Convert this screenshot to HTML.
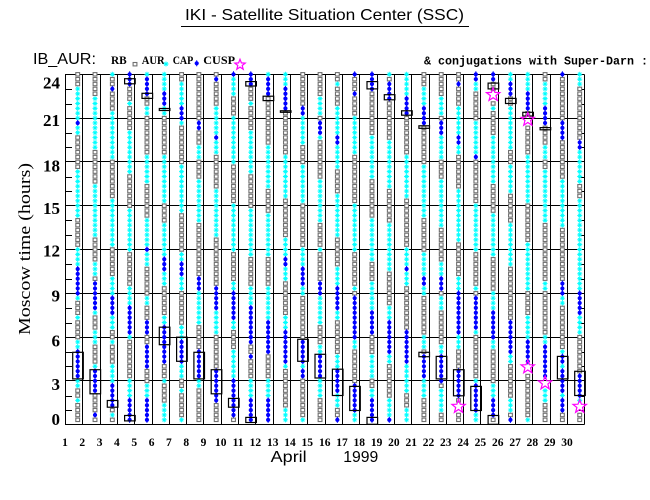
<!DOCTYPE html>
<html>
<head>
<meta charset="utf-8">
<style>
html,body{margin:0;padding:0;background:#fff;}
svg{display:block;}
</style>
</head>
<body>
<svg id="c" xmlns="http://www.w3.org/2000/svg" width="650" height="500" viewBox="0 0 650 500">
<rect x="0" y="0" width="650" height="500" fill="#fff"/>
<text x="185" y="20" font-family="Liberation Sans, sans-serif" font-size="16" textLength="279" lengthAdjust="spacingAndGlyphs" fill="#000">IKI - Satellite Situation Center (SSC)</text>
<line x1="181" y1="26.5" x2="469" y2="26.5" stroke="#000" stroke-width="1"/>
<text x="33" y="64" font-family="Liberation Sans, sans-serif" font-size="16" textLength="63" lengthAdjust="spacingAndGlyphs" fill="#000">IB_AUR:</text>
<g font-family="Liberation Serif, serif" font-weight="bold" font-size="12" fill="#000">
<text x="111" y="64" textLength="15.7" lengthAdjust="spacingAndGlyphs">RB</text>
<text x="141.7" y="64" textLength="23" lengthAdjust="spacingAndGlyphs">AUR</text>
<text x="172.7" y="64" textLength="20.6" lengthAdjust="spacingAndGlyphs">CAP</text>
<text x="203.3" y="64" textLength="31.7" lengthAdjust="spacingAndGlyphs">CUSP</text>
</g>
<text x="424" y="64.3" font-family="Liberation Mono, monospace" font-weight="bold" font-size="12" textLength="224" lengthAdjust="spacingAndGlyphs" fill="#000">&amp; conjugations with Super-Darn :</text>
<g font-family="Liberation Serif, serif" font-weight="bold" font-size="17" fill="#000" text-anchor="end">
<text x="60" y="88.5">24</text>
<text x="60" y="126">21</text>
<text x="60" y="171.7">18</text>
<text x="60" y="214">15</text>
<text x="60" y="256.7">12</text>
<text x="60" y="301.7">9</text>
<text x="60" y="346.7">6</text>
<text x="60" y="390">3</text>
<text x="60" y="425">0</text>
</g>
<text transform="translate(30,249) rotate(-90)" text-anchor="middle" font-family="Liberation Serif, serif" font-size="17" textLength="172" lengthAdjust="spacingAndGlyphs" fill="#000">Moscow time (hours)</text>
<text x="270.7" y="462" font-family="Liberation Sans, sans-serif" font-size="16" textLength="36" lengthAdjust="spacingAndGlyphs" fill="#000">April</text>
<text x="343.3" y="462" font-family="Liberation Sans, sans-serif" font-size="16" textLength="35" lengthAdjust="spacingAndGlyphs" fill="#000">1999</text>
<g id="daylabels" font-family="Liberation Serif, serif" font-weight="bold" font-size="11.5" fill="#000" text-anchor="middle">
<text x="65" y="446">1</text><text x="82.3" y="446">2</text><text x="99.6" y="446">3</text><text x="116.9" y="446">4</text><text x="134.2" y="446">5</text><text x="151.6" y="446">6</text><text x="168.9" y="446">7</text><text x="186.2" y="446">8</text><text x="203.5" y="446">9</text><text x="220.8" y="446">10</text><text x="238.1" y="446">11</text><text x="255.4" y="446">12</text><text x="272.7" y="446">13</text><text x="290" y="446">14</text><text x="307.3" y="446">15</text><text x="324.7" y="446">16</text><text x="342" y="446">17</text><text x="359.3" y="446">18</text><text x="376.6" y="446">19</text><text x="393.9" y="446">20</text><text x="411.2" y="446">21</text><text x="428.5" y="446">22</text><text x="445.8" y="446">23</text><text x="463.1" y="446">24</text><text x="480.4" y="446">25</text><text x="497.8" y="446">26</text><text x="515.1" y="446">27</text><text x="532.4" y="446">28</text><text x="549.7" y="446">29</text><text x="567" y="446">30</text>
</g>
</svg>
<script>
(function(){
var svg=document.getElementById('c');
var NS='http://www.w3.org/2000/svg';
function el(n,a){var e=document.createElementNS(NS,n);for(var k in a)e.setAttribute(k,a[k]);svg.appendChild(e);return e;}
var X0=65,DX=17.31;
function Y(h){return 424.7-14.6*h;}
function VX(d){return X0+(d-1)*DX;}
function MX(d){return X0+d*DX-4.6;}
var gy=[424.5,380.5,337.5,293.5,249.5,205.5,161.5,118.5,74.5];
var i,d,k;
for(i=0;i<gy.length;i++){el('line',{x1:65,y1:gy[i],x2:584.5,y2:gy[i],stroke:'#000','stroke-width':1,'shape-rendering':'crispEdges'});}
for(d=1;d<=31;d++){var vx=Math.round(VX(d))+0.5;el('line',{x1:vx,y1:74.5,x2:vx,y2:424.5,stroke:'#000','stroke-width':1,'shape-rendering':'crispEdges'});}
for(k=1;k<24;k++){if(k%3===0)continue;var ty=Math.round(Y(k))+0.5;
 el('line',{x1:65,y1:ty,x2:72,y2:ty,stroke:'#000','stroke-width':1,'shape-rendering':'crispEdges'});
 el('line',{x1:579,y1:ty,x2:584.5,y2:ty,stroke:'#000','stroke-width':1,'shape-rendering':'crispEdges'});}
function gsq(x,y){el('rect',{x:x-1.9,y:y-1.7,width:3.8,height:3.4,fill:'#fff',stroke:'#707070','stroke-width':1.1});}
function ast(x,y){el('path',{d:'M'+(x-2.5)+' '+y+'H'+(x+2.5)+'M'+x+' '+(y-2.5)+'V'+(y+2.5)+'M'+(x-1.7)+' '+(y-1.7)+'L'+(x+1.7)+' '+(y+1.7)+'M'+(x-1.7)+' '+(y+1.7)+'L'+(x+1.7)+' '+(y-1.7),stroke:'#00ffff','stroke-width':0.9,fill:'none'});}
function dot(x,y){el('path',{d:'M'+x+' '+(y-3)+'V'+(y+3),stroke:'#0000ff','stroke-width':1});el('circle',{cx:x,cy:y,r:2.1,fill:'#0000ff'});}
function star(x,y,R){var p=[];for(var j=0;j<10;j++){var r=j%2?R*0.42:R;var a=-Math.PI/2+j*Math.PI/5;p.push((x+r*Math.cos(a)).toFixed(1)+','+(y+r*Math.sin(a)).toFixed(1));}el('polygon',{points:p.join(' '),fill:'none',stroke:'#ff00ff','stroke-width':1.2});}
var D={
1:[[22.9,19.9,'c'],[20.8,20.8,'b'],[17.3,14.2,'c'],[12.1,10.8,'c'],[10.5,9.0,'b'],[8.7,8.7,'c'],[7.3,7.3,'c'],[5.7,5.3,'c'],[4.9,3.1,'b'],[3.0,2.6,'c'],[1.7,1.7,'c']],
2:[[22.2,18.9,'c'],[16.2,13.1,'c'],[10.9,10.2,'c'],[9.8,7.8,'b'],[7.7,7.7,'c'],[6.3,5.7,'c'],[4.1,3.9,'c'],[3.8,2.2,'b'],[0.7,0.7,'b']],
3:[[24.1,24.1,'c'],[23.0,23.0,'b'],[21.2,18.3,'c'],[15.4,12.4,'c'],[10.1,9.0,'c'],[8.8,7.7,'b'],[7.4,6.6,'c'],[5.7,5.7,'c'],[4.1,3.0,'c'],[2.7,1.4,'b'],[0.7,0.7,'c']],
4:[[24.1,23.4,'b'],[22.1,22.1,'c'],[20.1,17.3,'c'],[14.7,11.9,'c'],[9.2,8.3,'c'],[8.1,6.3,'b'],[6.1,6.1,'c'],[3.0,1.9,'c'],[1.7,0.3,'b']],
5:[[24.1,24.1,'c'],[23.8,22.8,'b'],[21.5,21.3,'c'],[18.4,16.8,'c'],[13.9,12.2,'c'],[12.1,11.7,'b'],[11.6,11.1,'c'],[8.8,8.3,'c'],[7.1,6.4,'b'],[5.3,4.1,'b'],[2.5,2.1,'c'],[1.8,0.3,'b']],
6:[[24.1,23.0,'c'],[22.8,22.0,'b'],[21.5,21.2,'c'],[18.2,15.2,'c'],[13.7,11.7,'c'],[11.4,10.4,'b'],[10.3,9.8,'c'],[7.4,6.7,'c'],[6.5,4.3,'b'],[3.0,2.9,'c'],[1.4,0.2,'c']],
7:[[23.4,22.0,'c'],[21.7,21.0,'b'],[20.8,20.8,'c'],[17.8,14.7,'c'],[11.5,11.2,'c'],[11.0,10.3,'b'],[10.0,9.4,'c'],[6.5,6.1,'c'],[5.6,4.1,'b'],[3.9,3.5,'c'],[2.4,2.4,'c'],[0.4,0.3,'c']],
8:[[20.8,20.3,'b'],[19.0,18.3,'c'],[16.8,14.0,'c'],[10.1,9.2,'b'],[8.9,7.1,'c'],[5.0,3.2,'b'],[3.0,2.6,'c']],
9:[[23.7,23.7,'b'],[21.8,18.8,'c'],[19.7,19.7,'b'],[16.1,13.1,'c'],[9.4,7.9,'b'],[7.8,6.4,'c'],[3.6,1.6,'b']],
10:[[24.1,24.1,'b'],[23.8,22.6,'c'],[20.9,17.9,'c'],[15.1,11.9,'c'],[9.8,9.2,'c'],[8.9,7.0,'b'],[6.9,6.6,'c'],[5.0,3.2,'c'],[3.0,0.7,'b']],
11:[[24.1,23.3,'b'],[22.1,22.1,'c'],[20.1,17.3,'c'],[14.5,11.7,'c'],[9.2,8.3,'c'],[7.9,5.8,'b'],[4.7,4.7,'b'],[3.0,2.1,'c'],[1.8,0.3,'b']],
12:[[24.1,24.1,'c'],[23.8,22.6,'b'],[19.0,16.5,'c'],[14.4,11.8,'c'],[9.2,7.3,'c'],[7.1,5.0,'b'],[3.0,2.1,'c'],[1.8,0.3,'b']],
13:[[24.1,23.1,'c'],[22.9,21.7,'b'],[18.4,15.7,'c'],[12.8,11.7,'c'],[11.2,10.8,'b'],[10.6,9.9,'c'],[7.4,6.3,'c'],[6.2,4.3,'b'],[4.1,4.1,'c'],[1.1,0.2,'c']],
14:[[21.8,21.0,'b'],[20.9,19.2,'c'],[17.5,15.2,'c'],[12.1,10.8,'c'],[10.5,9.6,'b'],[9.4,9.0,'c'],[5.7,3.2,'b'],[4.1,3.9,'c'],[0.3,0.3,'c']],
15:[[22.4,21.2,'c'],[20.8,20.0,'b'],[19.8,19.7,'c'],[16.8,14.1,'c'],[12.1,12.0,'c'],[9.8,8.7,'b'],[8.5,6.9,'c'],[5.3,5.0,'c'],[4.8,3.2,'b'],[2.9,2.1,'c']],
16:[[23.4,23.3,'c'],[21.7,20.0,'c'],[19.8,19.3,'b'],[19.1,17.7,'c'],[15.8,12.9,'c'],[10.5,9.5,'c'],[9.3,8.0,'b'],[7.8,7.2,'c'],[4.8,3.9,'c'],[3.7,2.3,'b'],[2.1,1.4,'c'],[0.3,0.3,'b']],
17:[[24.1,24.1,'b'],[22.7,22.7,'b'],[21.0,18.6,'c'],[15.1,11.9,'c'],[9.2,9.2,'c'],[8.5,6.0,'b'],[5.7,5.3,'c'],[2.5,1.1,'b'],[0.7,0.2,'c']],
18:[[24.1,23.1,'b'],[19.8,16.9,'c'],[14.0,11.5,'c'],[9.6,8.0,'c'],[7.8,6.2,'b'],[4.8,3.4,'c'],[2.3,1.8,'c'],[1.5,0.3,'b']],
19:[[24.1,24.1,'c'],[23.4,22.3,'b'],[19.2,16.2,'c'],[13.5,10.8,'c'],[8.0,7.2,'c'],[6.9,4.6,'b'],[4.7,4.3,'c'],[1.8,0.7,'c'],[0.3,0.3,'b']],
20:[[24.1,22.8,'c'],[22.4,21.4,'b'],[18.2,15.6,'c'],[12.1,11.0,'c'],[10.7,10.7,'b'],[10.3,9.6,'c'],[6.2,4.3,'b'],[4.1,2.5,'c'],[1.1,0.2,'c']],
21:[[23.1,22.0,'c'],[21.7,20.7,'b'],[17.5,14.5,'c'],[11.6,10.3,'c'],[10.1,9.6,'b'],[9.4,9.0,'c'],[6.1,5.3,'c'],[4.8,3.2,'b'],[3.0,1.9,'c']],
22:[[22.4,21.3,'c'],[20.8,19.9,'b'],[19.8,18.3,'c'],[16.5,13.6,'c'],[11.1,10.4,'c'],[9.9,9.2,'b'],[8.7,8.0,'c'],[5.4,4.7,'c'],[4.6,3.0,'b'],[2.3,0.9,'c']],
23:[[23.4,23.4,'b'],[21.5,19.9,'c'],[19.8,19.0,'b'],[18.9,18.6,'c'],[15.9,12.7,'c'],[10.1,9.3,'c'],[9.0,6.2,'b'],[6.1,5.5,'c'],[3.7,2.1,'b']],
24:[[24.1,23.7,'b'],[23.4,23.1,'c'],[20.7,18.6,'c'],[18.4,18.4,'b'],[14.9,11.9,'c'],[9.3,9.2,'c'],[8.8,6.5,'b'],[6.4,6.4,'c'],[3.0,2.7,'c'],[2.5,0.9,'b'],[0.7,0.2,'c']],
25:[[24.1,23.6,'b'],[21.8,21.6,'c'],[19.8,16.8,'c'],[14.3,11.7,'c'],[8.9,7.7,'c'],[7.5,5.9,'b'],[5.7,5.3,'c'],[2.5,2.0,'c'],[1.5,0.7,'b']],
26:[[24.1,23.8,'c'],[23.4,22.6,'b'],[21.8,19.1,'c'],[17.5,15.9,'c'],[13.8,11.0,'c'],[6.9,4.8,'b'],[4.7,4.3,'c'],[1.8,1.1,'c'],[0.3,0.3,'b']],
27:[[24.1,22.8,'c'],[22.5,21.6,'b'],[18.2,15.2,'c'],[12.4,9.4,'c'],[7.4,6.1,'c'],[5.8,4.3,'b'],[0.3,0.3,'c']],
28:[[23.2,21.6,'c'],[21.5,20.6,'b'],[19.1,18.3,'c'],[17.3,14.1,'c'],[9.7,9.7,'b'],[9.6,9.2,'c'],[6.1,5.7,'c'],[5.3,3.4,'b'],[2.3,1.6,'c']],
29:[[24.1,24.1,'b'],[20.5,19.8,'b'],[16.5,13.6,'c'],[9.5,8.9,'b'],[8.8,8.5,'c'],[5.0,4.8,'c'],[4.6,1.1,'b'],[3.9,3.9,'c'],[2.1,2.1,'c']],
30:[[24.1,23.4,'c'],[19.4,18.9,'b'],[18.8,16.8,'c'],[15.4,11.9,'c'],[11.8,9.2,'c'],[8.9,7.5,'b'],[7.3,6.4,'c'],[3.4,2.0,'b'],[1.7,1.5,'c']]
};
var B={1:[[4.96,3.14]],2:[[3.77,2.12]],3:[[1.66,1.2]],4:[[23.7,23.35],[0.63,0.26]],5:[[22.7,22.35]],
6:[[21.66,21.52],[6.68,5.48]],7:[[5.99,4.34]],8:[[4.96,3.14]],9:[[3.77,2.12]],10:[[1.8,1.2]],
11:[[23.5,23.2],[0.5,0.15]],12:[[22.5,22.2]],13:[[21.5,21.4]],14:[[5.85,4.34]],15:[[4.82,3.2]],
16:[[3.8,2.0]],17:[[2.62,0.97]],18:[[23.5,23.0],[0.5,0.03]],19:[[22.6,22.25]],20:[[21.5,21.2]],
21:[[20.47,20.3],[4.96,4.66]],22:[[4.68,3.14]],23:[[3.77,1.98]],24:[[2.62,0.97]],25:[[23.4,23.0],[0.63,0.03]],
26:[[22.35,22.0]],27:[[21.4,21.15]],28:[[20.35,20.2]],29:[[19.4,19.4],[4.68,3.14]],30:[[3.66,2.0]]};
var S=[[23,1.24],[25,22.6],[27,20.9],[27,3.95],[28,2.85],[30,1.24]];
for(d=1;d<=30;d++){
 var t=[];for(k=0;k<72;k++)t.push('g');
 var segs=D[d]||[];
 for(var s=0;s<segs.length;s++){for(k=0;k<72;k++){var h=24-k/3;if(h<=segs[s][0]+0.17&&h>=segs[s][1]-0.17)t[k]=segs[s][2];}}
 for(s=0;s<S.length;s++){if(S[s][0]===d){for(k=0;k<72;k++){if(Math.abs(24-k/3-S[s][1])<0.35)t[k]='.';}}}
 var x=MX(d);
 for(k=0;k<72;k++){var y=Y(24-k/3);if(t[k]==='g')gsq(x,y);else if(t[k]==='c')ast(x,y);else if(t[k]==='b')dot(x,y);}
}
for(d=1;d<=30;d++){var bb=B[d]||[];var x2=MX(d);
 for(s=0;s<bb.length;s++){var y1=Y(bb[s][0]),y2=Y(bb[s][1]);
  el('rect',{x:(x2-5).toFixed(1),y:y1.toFixed(1),width:10.6,height:Math.max(0,y2-y1).toFixed(1),fill:'none',stroke:'#000','stroke-width':1.2});}}
for(s=0;s<S.length;s++){star(MX(S[s][0]),Y(S[s][1]),7);}
gsq(135,64.2);ast(166,64);dot(196.7,63.3);star(240,64.8,5.5);
})();
</script>
</body>
</html>
